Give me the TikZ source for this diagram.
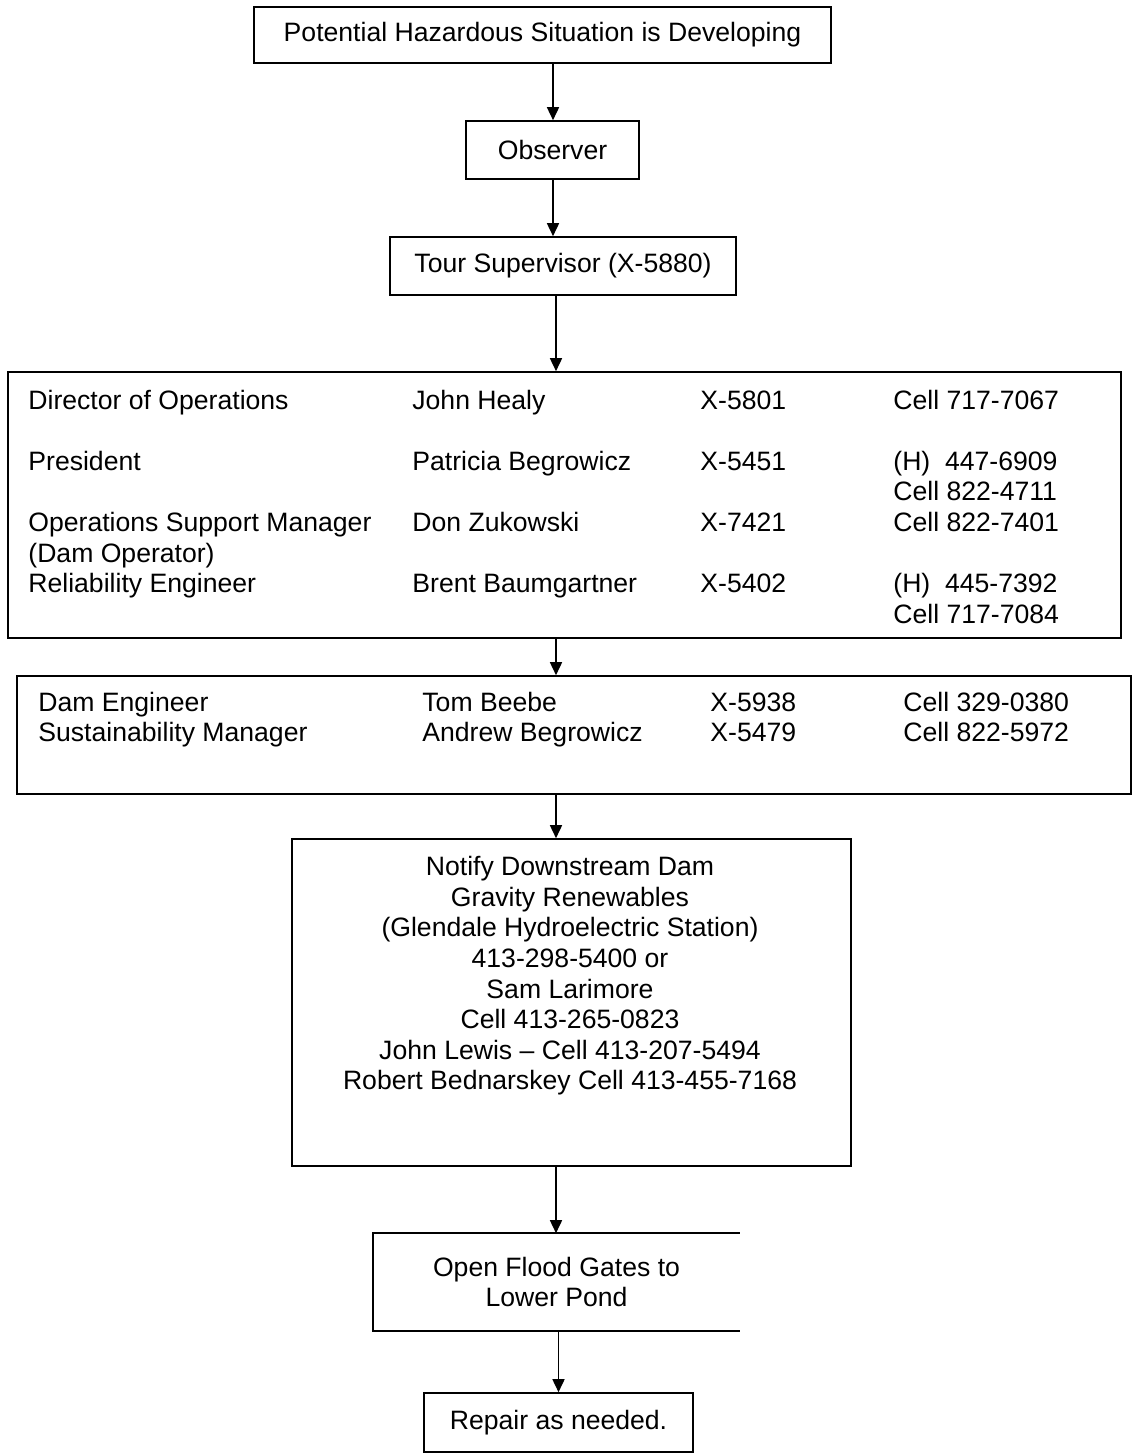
\documentclass[tikz,border=0pt]{standalone}
\usepackage{fontspec}
\setmainfont{Liberation Sans}
\usetikzlibrary{arrows.meta}

\begin{document}
\begin{tikzpicture}[x=0.5pt,y=-0.5pt,
  font=\fontsize{13.3}{15.3}\selectfont,
  box/.style={draw, line width=0.8pt, inner sep=0pt, align=center},
  flow/.style={-{Triangle[length=6.5pt,width=6pt]}, line width=0.8pt},
  entry/.style={anchor=base west, inner sep=0pt}]
\useasboundingbox (0,0) rectangle (1132,1454);

% Call chain boxes
\node[box, minimum width=288.5pt, minimum height=28pt] (hazard) at (542.5,35) {Potential Hazardous Situation is Developing};
\node[box, minimum width=86.5pt, minimum height=29pt] (observer) at (552.5,150) {Observer};
\node[box, minimum width=173pt, minimum height=29pt] (tour) at (563,266) {Tour Supervisor (X-5880)};
\node[box, minimum width=556.5pt, minimum height=133pt] (ops) at (564.5,505) {};
\node[box, minimum width=557pt, minimum height=59pt] (eng) at (574,735) {};
\node[box, minimum width=279.5pt, minimum height=163.5pt] (notify) at (571.5,1002.5) {};
\node[box, draw=none, minimum width=182.5pt, minimum height=48pt] (flood) at (556.5,1282) {Open Flood Gates to\\Lower Pond};
\node[box, minimum width=134.5pt, minimum height=29.5pt] (repair) at (558.5,1422.5) {Repair as needed.};

% Open flood box has no right side
\draw[line width=0.8pt] (flood.north east) -- (flood.north west) -- (flood.south west) -- (flood.south east);

% Operations contacts
\foreach \y/\role/\who/\ext/\cell [count=\r] in {
    409/Director of Operations/John Healy/X-5801/Cell 717-7067,
    470.2/President/Patricia Begrowicz/X-5451/{(H)\ \ 447-6909},
    531.4/Operations Support Manager/Don Zukowski/X-7421/Cell 822-7401,
    592.6/Reliability Engineer/Brent Baumgartner/X-5402/{(H)\ \ 445-7392}} {
    \node[entry] (role\r) at (28,\y) {\role};
    \node[entry] (who\r) at (412,\y) {\who};
    \node[entry] (ext\r) at (700,\y) {\ext};
    \node[entry] (cell\r) at (893,\y) {\cell};
}
\node[entry] (cell2b) at (893,500.8) {Cell 822-4711};
\node[entry] (role3b) at (28,562) {(Dam Operator)};
\node[entry] (cell4b) at (893,623.2) {Cell 717-7084};

% Engineering contacts
\foreach \y/\role/\who/\ext/\cell [count=\r] in {
    711/Dam Engineer/Tom Beebe/X-5938/Cell 329-0380,
    741.6/Sustainability Manager/Andrew Begrowicz/X-5479/Cell 822-5972} {
    \node[entry] (erole\r) at (38,\y) {\role};
    \node[entry] (ewho\r) at (422,\y) {\who};
    \node[entry] (eext\r) at (710,\y) {\ext};
    \node[entry] (ecell\r) at (903,\y) {\cell};
}

% Downstream notice
\node[align=center, anchor=north, inner sep=0pt] (notifytext) at (570,856)
{Notify Downstream Dam\\Gravity Renewables\\(Glendale Hydroelectric Station)\\413-298-5400 or\\Sam Larimore\\Cell 413-265-0823\\John Lewis -- Cell 413-207-5494\\Robert Bednarskey Cell 413-455-7168};

% Arrows
\coordinate (upper) at (553,0);
\coordinate (lower) at (556,0);
\draw[flow] (upper |- hazard.south) -- (upper |- observer.north);
\draw[flow] (upper |- observer.south) -- (upper |- tour.north);
\draw[flow] (lower |- tour.south) -- (lower |- ops.north);
\draw[flow] (lower |- ops.south) -- (lower |- eng.north);
\draw[flow] (lower |- eng.south) -- (lower |- notify.north);
\draw[flow] (lower |- notify.south) -- (lower |- flood.north);
\draw[flow] (repair.north |- flood.south) -- (repair.north);
\end{tikzpicture}
\end{document}
